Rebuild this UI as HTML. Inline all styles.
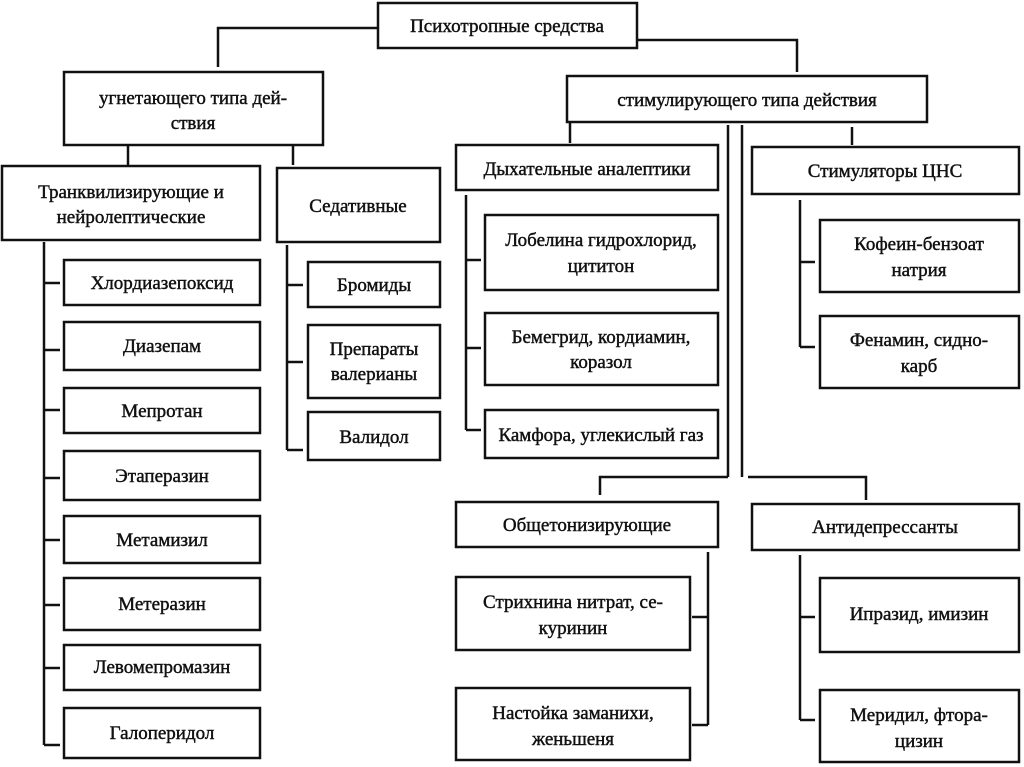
<!DOCTYPE html>
<html><head><meta charset="utf-8"><style>
html,body{margin:0;padding:0;background:#fff;}
svg{display:block}
text{font-family:"Liberation Serif","Noto Serif CJK SC",serif;font-size:19px;fill:#111;stroke:#111;stroke-width:0.45;text-anchor:middle}
</style></head><body>
<svg width="1024" height="767" viewBox="0 0 1024 767" xmlns="http://www.w3.org/2000/svg">
<g fill="none" stroke="#111" stroke-width="2.5">
<rect x="378" y="3" width="259" height="45"/>
<rect x="64" y="72" width="259" height="73"/>
<rect x="567" y="76" width="360" height="46"/>
<rect x="2" y="166" width="258" height="74"/>
<rect x="277" y="168" width="163" height="74"/>
<rect x="64" y="260" width="196" height="45"/>
<rect x="64" y="322" width="196" height="48"/>
<rect x="64" y="388" width="196" height="45"/>
<rect x="64" y="451" width="196" height="49"/>
<rect x="64" y="516" width="196" height="47"/>
<rect x="64" y="578" width="196" height="52"/>
<rect x="64" y="645" width="196" height="45"/>
<rect x="64" y="708" width="196" height="50"/>
<rect x="308" y="262" width="132" height="45"/>
<rect x="308" y="325" width="132" height="73"/>
<rect x="308" y="412" width="132" height="48"/>
<rect x="456" y="145" width="262" height="45"/>
<rect x="752" y="147" width="267" height="47"/>
<rect x="485" y="215" width="233" height="75"/>
<rect x="485" y="313" width="233" height="72"/>
<rect x="485" y="410" width="233" height="48"/>
<rect x="820" y="220" width="199" height="72"/>
<rect x="820" y="316" width="199" height="72"/>
<rect x="456" y="502" width="262" height="45"/>
<rect x="752" y="504" width="267" height="46"/>
<rect x="456" y="577" width="234" height="73"/>
<rect x="456" y="688" width="234" height="72"/>
<rect x="820" y="578" width="199" height="74"/>
<rect x="820" y="690" width="199" height="72"/>
<polyline points="378,28 218,28 218,67"/>
<polyline points="637,40 797,40 797,72"/>
<line x1="128" y1="145" x2="128" y2="165"/>
<line x1="293" y1="145" x2="293" y2="165"/>
<line x1="44" y1="242" x2="44" y2="745"/>
<line x1="44" y1="283" x2="60" y2="283"/>
<line x1="44" y1="350" x2="60" y2="350"/>
<line x1="44" y1="410" x2="60" y2="410"/>
<line x1="44" y1="478" x2="60" y2="478"/>
<line x1="44" y1="540" x2="60" y2="540"/>
<line x1="44" y1="605" x2="60" y2="605"/>
<line x1="44" y1="668" x2="60" y2="668"/>
<line x1="44" y1="745" x2="60" y2="745"/>
<line x1="287" y1="245" x2="287" y2="450"/>
<line x1="287" y1="285" x2="303" y2="285"/>
<line x1="287" y1="362" x2="303" y2="362"/>
<line x1="287" y1="450" x2="303" y2="450"/>
<line x1="570" y1="122" x2="570" y2="143"/>
<line x1="728" y1="125" x2="728" y2="477"/>
<line x1="742" y1="125" x2="742" y2="477"/>
<line x1="852" y1="127" x2="852" y2="145"/>
<line x1="466" y1="195" x2="466" y2="430"/>
<line x1="466" y1="260" x2="481" y2="260"/>
<line x1="466" y1="348" x2="481" y2="348"/>
<line x1="466" y1="430" x2="481" y2="430"/>
<line x1="800" y1="200" x2="800" y2="347"/>
<line x1="800" y1="262" x2="815" y2="262"/>
<line x1="800" y1="347" x2="815" y2="347"/>
<polyline points="728,477 600,477 600,495"/>
<polyline points="748,477 866,477 866,500"/>
<line x1="708" y1="552" x2="708" y2="725"/>
<line x1="692" y1="617" x2="708" y2="617"/>
<line x1="692" y1="725" x2="708" y2="725"/>
<line x1="800" y1="555" x2="800" y2="720"/>
<line x1="800" y1="617" x2="815" y2="617"/>
<line x1="800" y1="720" x2="815" y2="720"/>
</g>
<text x="507" y="32">Психотропные средства</text>
<text x="193" y="104">угнетающего типа дей-</text>
<text x="193" y="129">ствия</text>
<text x="747" y="106">стимулирующего типа  действия</text>
<text x="131" y="198">Транквилизирующие и</text>
<text x="131" y="223">нейролептические</text>
<text x="358" y="212">Седативные</text>
<text x="162" y="289">Хлордиазепоксид</text>
<text x="162" y="352">Диазепам</text>
<text x="162" y="417">Мепротан</text>
<text x="162" y="482">Этаперазин</text>
<text x="162" y="546">Метамизил</text>
<text x="162" y="610">Метеразин</text>
<text x="162" y="673">Левомепромазин</text>
<text x="162" y="739">Галоперидол</text>
<text x="374" y="291">Бромиды</text>
<text x="374" y="355">Препараты</text>
<text x="374" y="380">валерианы</text>
<text x="374" y="443">Валидол</text>
<text x="587" y="175">Дыхательные аналептики</text>
<text x="885" y="177">Стимуляторы ЦНС</text>
<text x="601" y="246">Лобелина гидрохлорид,</text>
<text x="601" y="272">цититон</text>
<text x="601" y="343">Бемегрид, кордиамин,</text>
<text x="601" y="368">коразол</text>
<text x="601" y="441">Камфора, углекислый газ</text>
<text x="919" y="250">Кофеин-бензоат</text>
<text x="919" y="276">натрия</text>
<text x="919" y="346">Фенамин, сидно-</text>
<text x="919" y="372">карб</text>
<text x="587" y="531">Общетонизирующие</text>
<text x="885" y="533">Антидепрессанты</text>
<text x="573" y="608">Стрихнина нитрат, се-</text>
<text x="573" y="634">куринин</text>
<text x="573" y="719">Настойка заманихи,</text>
<text x="573" y="745">женьшеня</text>
<text x="919" y="620">Ипразид, имизин</text>
<text x="919" y="721">Меридил, фтора-</text>
<text x="919" y="747">цизин</text>
</svg>
</body></html>
